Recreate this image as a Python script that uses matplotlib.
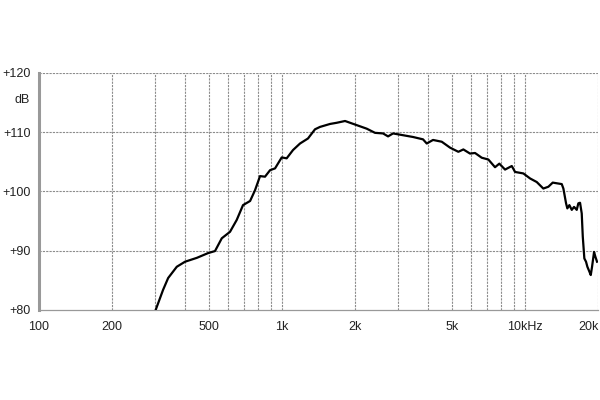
import matplotlib
matplotlib.use("Agg")
import matplotlib.pyplot as plt
import numpy as np

plt.rcParams['font.family'] = ['Liberation Sans', 'DejaVu Sans']

# frequency response (Hz, dB)
freq = [302, 324, 340, 369, 399, 446, 496, 530, 565, 611, 651, 691, 739, 774,
        812, 851, 893, 936, 997, 1045, 1110, 1186, 1279, 1367, 1433, 1576, 1680,
        1817, 1905, 2030, 2232, 2414, 2604, 2731, 2863, 3147, 3460, 3804, 3940,
        4182, 4542, 4914, 5316, 5574, 5938, 6226, 6634, 7063, 7525, 7838, 8274,
        8819, 9098, 9840, 10490, 11170, 11890, 12470, 13000, 14160, 14380, 14750,
        14930, 15220, 15570, 15910, 16320, 16570, 16840, 17110, 17280, 17540,
        17820, 18050, 18390, 18640, 18870, 19230, 19470, 19780]
level = [80.0, 83.4, 85.4, 87.3, 88.15, 88.8, 89.6, 89.95, 92.1, 93.2, 95.2, 97.7,
         98.4, 100.2, 102.6, 102.5, 103.6, 103.9, 105.75, 105.6, 107.0, 108.1,
         108.95, 110.5, 110.9, 111.4, 111.6, 111.9, 111.6, 111.2, 110.6, 109.9,
         109.8, 109.3, 109.8, 109.5, 109.2, 108.8, 108.1, 108.7, 108.4, 107.4,
         106.7, 107.1, 106.4, 106.5, 105.7, 105.4, 104.1, 104.7, 103.7, 104.3,
         103.3, 103.05, 102.2, 101.6, 100.5, 100.8, 101.5, 101.25, 100.5, 98.0,
         97.15, 97.7, 96.9, 97.4, 96.9, 98.0, 98.1, 96.3, 92.4, 88.7, 88.15, 87.3,
         86.5, 85.9, 87.3, 89.8, 89.0, 88.15]

grid_freqs = [200, 300, 400, 500, 600, 700, 800, 900, 1000, 2000, 3000, 4000,
              5000, 6000, 7000, 8000, 9000, 10000, 20000]
xtick_vals = [100, 200, 500, 1000, 2000, 5000, 10000, 20000]
xtick_labels = ["100", "200", "500", "1k", "2k", "5k", "10kHz", "20k"]
ytick_vals = [80, 90, 100, 110, 120]
ytick_labels = ["+80", "+90", "+100", "+110", "+120"]

fig = plt.figure(figsize=(6, 4), dpi=100)
ax = fig.add_axes([0.065, 0.225, 0.932, 0.5925])

for f in grid_freqs:
    ax.axvline(f, color="#8c8c8c", lw=0.8, ls=(0, (2, 1)), zorder=1)
for v in ytick_vals[1:]:
    ax.axhline(v, color="#8c8c8c", lw=0.8, ls=(0, (2, 1)), zorder=1)

ax.plot(freq, level, color="black", lw=1.6, zorder=3)

ax.set_xscale("log")
ax.set_xlim(100, 20000)
ax.set_ylim(80, 120)
ax.set_xticks(xtick_vals)
ax.set_xticklabels(xtick_labels)
ax.minorticks_off()
ax.set_yticks(ytick_vals)
ax.set_yticklabels(ytick_labels)
ax.tick_params(length=0, labelsize=9, colors="#222222")
ax.tick_params(axis="x", pad=8)
ax.tick_params(axis="y", pad=6)
# last label would run off the edge
ax.get_xticklabels()[-1].set_horizontalalignment("right")

ax.spines["left"].set_color("#999999")
ax.spines["left"].set_linewidth(2.2)
ax.spines["bottom"].set_color("#999999")
ax.spines["bottom"].set_linewidth(0.9)
ax.spines["top"].set_visible(False)
ax.spines["right"].set_visible(False)

fig.text(22 / 600, 1 - 100 / 400, "dB", ha="center", va="center", fontsize=9, color="#222222")

fig.savefig("out.png", dpi=100)
